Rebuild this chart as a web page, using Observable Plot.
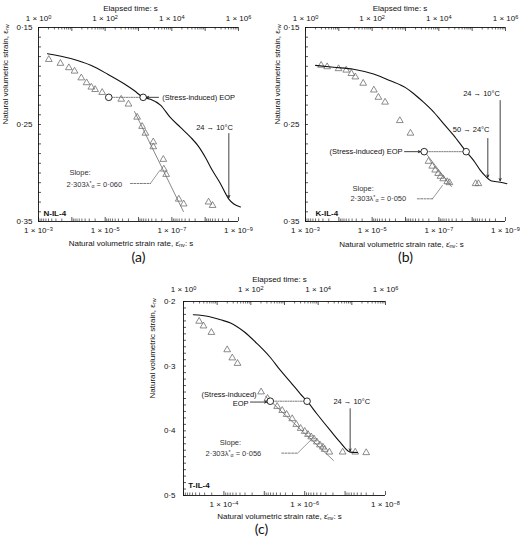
<!DOCTYPE html>
<html><head><meta charset="utf-8">
<script src="https://cdn.jsdelivr.net/npm/d3@7"></script>
<script src="https://cdn.jsdelivr.net/npm/@observablehq/plot@0.6"></script>
<style>
html,body{margin:0;padding:0;background:#fff;overflow:hidden;}
#wrap{position:relative;width:520px;height:540px;}
#wrap svg{position:absolute;}
</style></head><body><div id="wrap"></div>
<script>
// ---------- Panel (a) N-IL-4 ----------
const aCurveTime   = [1.86, 9.3, 37, 117, 370, 740, 1380, 2290, 4570, 9120, 18200, 36300, 64600, 102000, 162000, 288000, 407000, 513000, 724000, 1150000];
const aCurveStrain = [0.177, 0.182, 0.189, 0.198, 0.208, 0.215, 0.222, 0.224, 0.230, 0.243, 0.253, 0.263, 0.273, 0.284, 0.297, 0.311, 0.321, 0.327, 0.332, 0.335];
const aTriRate   = [4.9e-4, 2.2e-4, 1.23e-4, 8.3e-5, 5.2e-5, 3.6e-5, 2.6e-5, 2.0e-5, 1.23e-5, 3.3e-6, 2.0e-6, 1.1e-6, 7.8e-7, 6.2e-7, 3.6e-7, 3.6e-7, 1.8e-7, 1.74e-7, 1.48e-7, 6.2e-8, 4.4e-8, 7.9e-9, 6.0e-9];
const aTriStrain = [0.183, 0.187, 0.1915, 0.195, 0.202, 0.207, 0.2115, 0.214, 0.217, 0.224, 0.229, 0.2425, 0.252, 0.259, 0.268, 0.273, 0.286, 0.296, 0.3015, 0.327, 0.332, 0.330, 0.3335];
const aEopRate = 7.8e-6, aEopTime = 1380, aEopStrain = 0.222;
const aSlopeRate = [1.32e-6, 4.5e-8], aSlopeStrain = [0.2366, 0.3397];
const aSlopeText = "2·303λ^{*}_{α} = 0·060";

// ---------- Panel (b) K-IL-4 ----------
const bCurveTime   = [2.0, 6.9, 27.5, 110, 355, 1000, 1740, 3470, 6920, 13800, 27500, 66100, 110000, 174000, 263000, 363000, 692000, 1100000];
const bCurveStrain = [0.189, 0.191, 0.193, 0.198, 0.205, 0.212, 0.218, 0.227, 0.237, 0.249, 0.261, 0.278, 0.287, 0.297, 0.304, 0.308, 0.3095, 0.311];
const bTriRate   = [3.4e-4, 2.24e-4, 1.02e-4, 6.0e-5, 4.2e-5, 3.2e-5, 1.86e-5, 8.9e-6, 6.5e-6, 4.1e-6, 1.48e-6, 7.1e-7, 2.04e-7, 1.58e-7, 1.29e-7, 1.05e-7, 8.9e-8, 7.4e-8, 5.6e-8, 4.8e-8, 7.9e-9, 6.5e-9];
const bTriStrain = [0.189, 0.1905, 0.1925, 0.194, 0.1975, 0.201, 0.2075, 0.2145, 0.222, 0.227, 0.246, 0.259, 0.288, 0.293, 0.297, 0.3005, 0.3035, 0.306, 0.309, 0.310, 0.311, 0.311];
const bEopRate = 2.75e-7, bEopTime = 66100, bEopStrain = 0.278;
const bSlopeRate = [2.7e-7, 4.2e-8], bSlopeStrain = [0.2778, 0.3139];
const bSlopeText = "2·303λ^{*}_{α} = 0·050";

// ---------- Panel (c) T-IL-4 ----------
const cCurveTime   = [1.95, 5.6, 12.6, 25, 62, 155, 380, 760, 1510, 2950, 4680, 9120, 22900, 44700, 89100, 148000];
const cCurveStrain = [0.2206, 0.2232, 0.2283, 0.2332, 0.2464, 0.2654, 0.2866, 0.3066, 0.3247, 0.3427, 0.3542, 0.3736, 0.3994, 0.4175, 0.4329, 0.4335];
const cTriRate   = [4.1e-4, 3.2e-4, 2.04e-4, 8.3e-5, 6.2e-5, 4.6e-5, 1.2e-5, 8.3e-6, 4.8e-6, 3.6e-6, 2.8e-6, 2.04e-6, 1.62e-6, 1.26e-6, 1.0e-6, 8.3e-7, 6.9e-7, 5.9e-7, 5.0e-7, 4.2e-7, 3.55e-7, 3.2e-7, 2.45e-7, 1.15e-7, 5.6e-8, 3.0e-8];
const cTriStrain = [0.2306, 0.2379, 0.2479, 0.2747, 0.2873, 0.2958, 0.3399, 0.3499, 0.3623, 0.3685, 0.3747, 0.3813, 0.3901, 0.3963, 0.4009, 0.4056, 0.4094, 0.4125, 0.4172, 0.4218, 0.4252, 0.4287, 0.4329, 0.4329, 0.4329, 0.4338];
const cEopRate = 7.1e-6, cEopTime = 4680, cEopStrain = 0.3542;
const cSlopeRate = [9.3e-6, 1.95e-7], cSlopeStrain = [0.3468, 0.4457];
const cSlopeText = "2·303λ^{*}_{α} = 0·056";

// ---------- axes ----------
const timeTickLabels = [1, 1e2, 1e4, 1e6];
const abRateTickLabels = [1e-3, 1e-5, 1e-7, 1e-9];
const cRateTickLabels = [1e-4, 1e-6, 1e-8];
const abStrainTickLabels = [0.15, 0.25, 0.35];
const cStrainTickLabels = [0.2, 0.3, 0.4, 0.5];

const FONT = "'Liberation Sans', Arial, Helvetica, sans-serif";
const INK = "#111", GREY = "#6e6e6e";

function logTicks(lo, hi) {
  const minor = [], major = [];
  for (let e = lo; e <= hi; e++) {
    major.push(Math.pow(10, e));
    if (e < hi) for (let m = 2; m <= 9; m++) minor.push(m * Math.pow(10, e));
  }
  return {minor, major};
}
function fmtExp(d) {
  const e = Math.round(Math.log10(d));
  return "1 × 10^{" + (e < 0 ? "−" + (-e) : e) + "}";
}
function fmtDot(d) { return String(d).replace(".", "·"); }

function richify(svg) {
  d3.select(svg).selectAll("text").each(function () {
    const s = this.textContent;
    if (!/[\^_]\{/.test(s)) return;
    const parts = []; const re = /([\^_])\{([^}]*)\}/g; let last = 0, m;
    while ((m = re.exec(s))) {
      if (m.index > last) parts.push({t: s.slice(last, m.index)});
      parts.push({t: m[2], k: m[1]});
      last = re.lastIndex;
    }
    if (last < s.length) parts.push({t: s.slice(last)});
    while (this.firstChild) this.removeChild(this.firstChild);
    for (const p of parts) {
      const ts = document.createElementNS("http://www.w3.org/2000/svg", "tspan");
      ts.textContent = p.t;
      if (p.k) {
        ts.setAttribute("font-size", "70%");
        ts.setAttribute("baseline-shift", p.k === "^" ? "40%" : "-20%");
      }
      this.appendChild(ts);
    }
  });
}

const pts = (xs, ys) => xs.map((x, i) => ({x, y: ys[i]}));
const txt = (x, y, t, anchor, extra = {}) =>
  Plot.text([{x, y, t}], {x: "x", y: "y", text: "t", textAnchor: anchor, fontSize: 7.5, fill: INK, ...extra});
const arrow = (x1, y1, x2, y2) =>
  Plot.arrow([{x1, y1, x2, y2}], {x1: "x1", y1: "y1", x2: "x2", y2: "y2", stroke: INK, strokeWidth: 0.8, headLength: 4.5, headAngle: 50});
const dashed = (xs, ys, dash) =>
  Plot.line(pts(xs, ys), {x: "x", y: "y", stroke: "#444", strokeWidth: 0.7, strokeDasharray: dash});

function panel(p) {
  const W = p.width, H = p.height, mT = 27, mL = 38, innerH = 194, innerW = p.innerW;
  const mR = W - mL - innerW, mB = H - mT - innerH;
  const common = {width: W, height: H, marginTop: mT, marginRight: mR, marginBottom: mB, marginLeft: mL,
    style: {fontFamily: FONT, fontSize: "8px", background: "transparent", overflow: "visible", color: INK}};
  const yScale = {domain: p.yDomain, reverse: true};
  const rt = logTicks(p.rateExp[0], p.rateExp[1]), tt = logTicks(0, 6);
  const yMinor = d3.range(Math.round(p.yDomain[0] * 100), Math.round(p.yDomain[1] * 100) + 1).map(k => k / 100);

  const rateSvg = Plot.plot({
    ...common,
    x: {type: "log", domain: p.rateDomain},
    y: yScale,
    marks: [
      Plot.ruleY(p.yDomain, {stroke: INK, strokeWidth: 0.9}),
      Plot.ruleX([p.rateDomain[0]], {stroke: INK, strokeWidth: 0.9}),
      Plot.tickY(yMinor, {y: d => d, insetRight: innerW - 3, stroke: INK, strokeWidth: 0.7}),
      Plot.tickX(rt.minor, {x: d => d, insetTop: innerH - 2.5, stroke: INK, strokeWidth: 0.6}),
      Plot.tickX(rt.major, {x: d => d, insetTop: innerH - 4, stroke: INK, strokeWidth: 0.7}),
      Plot.line(pts(p.slopeRate, p.slopeStrain), {x: "x", y: "y", stroke: "#555", strokeWidth: 0.7}),
      dashed(p.leaderRate, p.leaderStrain, "2,1.3"),
      Plot.line(pts(p.leaderDiagRate, p.leaderDiagStrain), {x: "x", y: "y", stroke: "#555", strokeWidth: 0.6}),
      dashed([p.eopRate, p.eopLineEnd], [p.eopStrain, p.eopStrain], "1.3,1.2"),
      Plot.dot(pts(p.triRate, p.triStrain), {x: "x", y: "y", symbol: "triangle", r: 2.5, stroke: GREY, fill: "none", strokeWidth: 0.8}),
      Plot.dot([{x: p.eopRate, y: p.eopStrain}], {x: "x", y: "y", r: 3.3, fill: "white", stroke: INK, strokeWidth: 0.9}),
      ...p.rateMarks,
      txt(p.slopeLabel[0], p.slopeLabel[1], "Slope:", "start", {fill: "#333"}),
      txt(p.slopeLabel2[0], p.slopeLabel2[1], p.slopeText, "start", {fill: "#333"}),
      txt(p.nameAt[0], p.nameAt[1], p.name, "start", {fontWeight: "bold", fontSize: 8}),
      Plot.axisX({anchor: "bottom", ticks: p.rateLabels, tickSize: 0, tickPadding: 6, tickFormat: fmtExp, label: null}),
      Plot.axisY({anchor: "left", ticks: p.yLabels, tickSize: 0, tickPadding: p.yPad, tickFormat: fmtDot, label: null}),
      Plot.text(["Natural volumetric strain rate, ε̇_{nv}: s"], {frameAnchor: "bottom", text: d => d, dx: p.rateTitleDx, dy: p.rateTitleDy, fontSize: 8}),
      Plot.text(["Natural volumetric strain, ε_{nv}"], {frameAnchor: "left", rotate: -90, text: d => d, dx: p.yTitleDx, fontSize: 8}),
      Plot.text([p.tag], {frameAnchor: "bottom", text: d => d, dx: p.tagDx, dy: p.tagDy, fontSize: 14, fontFamily: "Lato, 'Open Sans', sans-serif"})
    ]
  });

  const timeSvg = Plot.plot({
    ...common,
    x: {type: "log", domain: [1, 1e6]},
    y: {...yScale, axis: null},
    marks: [
      Plot.tickX(tt.minor, {x: d => d, insetBottom: innerH - 2.5, stroke: INK, strokeWidth: 0.6}),
      Plot.tickX(tt.major, {x: d => d, insetBottom: innerH - 4, stroke: INK, strokeWidth: 0.7}),
      Plot.line(pts(p.curveTime, p.curveStrain), {x: "x", y: "y", stroke: INK, strokeWidth: 1.1, curve: "monotone-x"}),
      Plot.dot([{x: p.eopTime, y: p.eopStrain}], {x: "x", y: "y", r: 3.3, fill: "white", stroke: INK, strokeWidth: 0.9}),
      ...p.timeMarks,
      Plot.axisX({anchor: "top", ticks: timeTickLabels, tickSize: 0, tickPadding: p.topPad, tickFormat: fmtExp, label: null}),
      Plot.text(["Elapsed time: s"], {frameAnchor: "top", text: d => d, dx: p.timeTitleDx, dy: p.timeTitleDy, fontSize: 8})
    ]
  });

  for (const svg of [rateSvg, timeSvg]) {
    richify(svg);
    svg.style.left = p.left + "px";
    svg.style.top = p.top + "px";
    document.getElementById("wrap").appendChild(svg);
  }
}

// Panel (a)
panel({
  left: 0, top: 0, width: 255, height: 270, innerW: 200,
  yDomain: [0.15, 0.35], yLabels: abStrainTickLabels, yPad: 6,
  rateDomain: [1e-3, 1e-9], rateExp: [-9, -3], rateLabels: abRateTickLabels, topPad: 7,
  curveTime: aCurveTime, curveStrain: aCurveStrain, triRate: aTriRate, triStrain: aTriStrain,
  eopRate: aEopRate, eopTime: aEopTime, eopStrain: aEopStrain, eopLineEnd: 7.2e-7,
  slopeRate: aSlopeRate, slopeStrain: aSlopeStrain, slopeText: aSlopeText,
  leaderRate: [1.74e-6, 4.4e-7], leaderStrain: [0.3108, 0.3108],
  leaderDiagRate: [4.4e-7, 2.3e-7], leaderDiagStrain: [0.3108, 0.2974],
  slopeLabel: [1.18e-4, 0.2995], slopeLabel2: [1.45e-4, 0.3119],
  name: "N-IL-4", nameAt: [7.1e-4, 0.3414],
  rateMarks: [],
  timeMarks: [
    arrow(3980, 0.222, 1740, 0.222),
    txt(5130, 0.222, "(Stress-induced) EOP", "start"),
    txt(191000, 0.2531, "24 → 10°C", "middle"),
    arrow(513000, 0.2593, 513000, 0.3253)
  ],
  rateTitleDx: -7.5, rateTitleDy: 24, yTitleDx: -33, tag: "(a)", tagDx: 0, tagDy: 40,
  timeTitleDx: -8, timeTitleDy: -22
});

// Panel (b)
panel({
  left: 267, top: 0, width: 253, height: 270, innerW: 200,
  yDomain: [0.15, 0.35], yLabels: abStrainTickLabels, yPad: 6,
  rateDomain: [1e-3, 1e-9], rateExp: [-9, -3], rateLabels: abRateTickLabels, topPad: 7,
  curveTime: bCurveTime, curveStrain: bCurveStrain, triRate: bTriRate, triStrain: bTriStrain,
  eopRate: bEopRate, eopTime: bEopTime, eopStrain: bEopStrain, eopLineEnd: 1.5e-8,
  slopeRate: bSlopeRate, slopeStrain: bSlopeStrain, slopeText: bSlopeText,
  leaderRate: [4.4e-7, 1.55e-7], leaderStrain: [0.3266, 0.3266],
  leaderDiagRate: [1.55e-7, 7.8e-8], leaderDiagStrain: [0.3266, 0.3129],
  slopeLabel: [3.9e-5, 0.3162], slopeLabel2: [4.5e-5, 0.3266],
  name: "K-IL-4", nameAt: [5.0e-4, 0.342],
  rateMarks: [
    txt(1.23e-6, 0.278, "(Stress-induced) EOP", "end"),
    arrow(1.07e-6, 0.278, 3.55e-7, 0.278)
  ],
  timeMarks: [
    txt(93000, 0.2555, "50 → 24°C", "middle"),
    arrow(295000, 0.2644, 295000, 0.3043),
    txt(191000, 0.2184, "24 → 10°C", "middle"),
    arrow(692000, 0.2253, 692000, 0.308)
  ],
  rateTitleDx: -4, rateTitleDy: 25.5, yTitleDx: -28, tag: "(b)", tagDx: 0, tagDy: 40,
  timeTitleDx: -5.5, timeTitleDy: -22
});

// Panel (c)
panel({
  left: 145, top: 274, width: 255, height: 266, innerW: 202,
  yDomain: [0.2, 0.5], yLabels: cStrainTickLabels, yPad: 8,
  rateDomain: [1e-3, 1e-8], rateExp: [-8, -3], rateLabels: cRateTickLabels, topPad: 10,
  curveTime: cCurveTime, curveStrain: cCurveStrain, triRate: cTriRate, triStrain: cTriStrain,
  eopRate: cEopRate, eopTime: cEopTime, eopStrain: cEopStrain, eopLineEnd: 8.7e-7,
  slopeRate: cSlopeRate, slopeStrain: cSlopeStrain, slopeText: cSlopeText,
  leaderRate: [3.7e-6, 1.5e-6], leaderStrain: [0.4345, 0.4345],
  leaderDiagRate: [1.5e-6, 7.2e-7], leaderDiagStrain: [0.4345, 0.4148],
  slopeLabel: [1.26e-4, 0.4187], slopeLabel2: [2.85e-4, 0.4357],
  name: "T-IL-4", nameAt: [7.6e-4, 0.4848],
  rateMarks: [
    txt(1.55e-5, 0.3435, "(Stress-induced)", "end"),
    txt(2.45e-5, 0.3577, "EOP", "end"),
    arrow(2.2e-5, 0.3555, 8.7e-6, 0.3555)
  ],
  timeMarks: [
    txt(100000, 0.3541, "24 → 10°C", "middle"),
    arrow(89100, 0.3658, 89100, 0.4314)
  ],
  rateTitleDx: -5, rateTitleDy: 23, yTitleDx: -31.5, tag: "(c)", tagDx: -23, tagDy: 38,
  timeTitleDx: -5, timeTitleDy: -25
});
</script></body></html>
